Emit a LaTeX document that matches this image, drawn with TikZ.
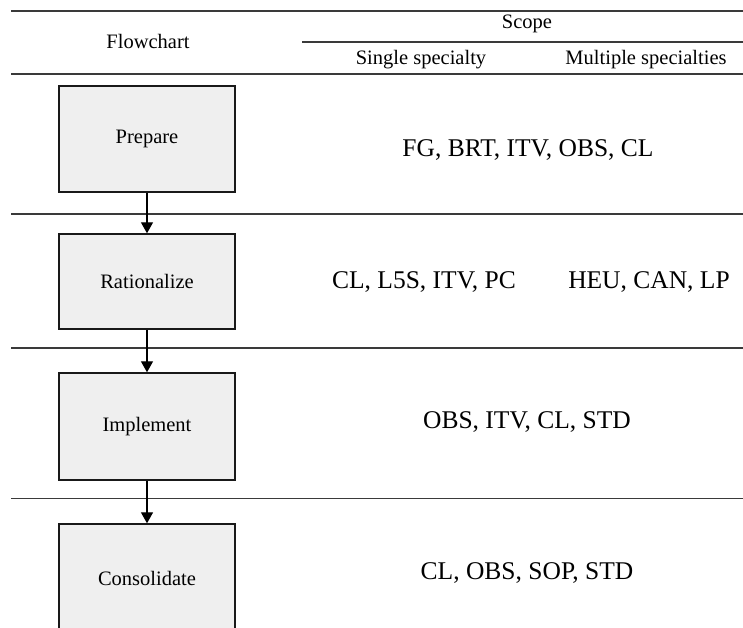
\documentclass[tikz,border=0pt]{standalone}
\usepackage{fontspec}
\setmainfont{Liberation Serif}
\usetikzlibrary{arrows.meta,positioning}
\definecolor{boxgray}{HTML}{EFEFEF}
\definecolor{rulegray}{HTML}{3A3A3A}

\begin{document}
\begin{tikzpicture}[x=1pt,y=-1pt,
    stagebox/.style={draw=black!90,fill=boxgray,line width=1.4pt,minimum width=176pt,inner sep=0pt,
      font=\fontsize{20.5}{24}\selectfont},
    rowtext/.style={inner sep=0pt,font=\fontsize{25.5}{30}\selectfont},
    headtext/.style={inner sep=0pt,font=\fontsize{20.5}{24}\selectfont},
    rule/.style={draw=rulegray,line width=1.7pt},
    flow/.style={draw=black,line width=1.3pt,-{Triangle[width=12pt,length=11pt]}}]
  \useasboundingbox (0,0) rectangle (743,628);
  \clip (0,0) rectangle (743,628);

  % header
  \draw[rule] (11,10.7) -- (743,10.7);
  \draw[rule] (302,41.7) -- (743,41.7);
  \draw[rule] (11,73.7) -- (743,73.7);
  \node[headtext] (flowhead) at (148,41) {Flowchart};
  \node[headtext] (scopehead) at (527,24) {Scope};
  \node[headtext] (singlehead) at (421,60) {Single specialty};
  \node[headtext] (multihead) at (646,60) {Multiple specialties};

  % row dividers
  \draw[rule] (11,214.3) -- (743,214.3);
  \draw[rule] (11,348.3) -- (743,348.3);
  \draw[rule] (11,498.5) -- (743,498.5);

  % flowchart
  \node[stagebox,minimum height=106pt] (prepare) at (147,139) {Prepare};
  \node[stagebox,minimum height=95pt] (rationalize) at (147,281.5) {Rationalize};
  \node[stagebox,minimum height=107pt] (implement) at (147,426.5) {Implement};
  \node[stagebox,minimum height=108pt] (consolidate) at (147,578) {Consolidate};
  \draw[flow] (prepare) -- (rationalize);
  \draw[flow] (rationalize) -- (implement);
  \draw[flow] (implement) -- (consolidate);

  % scope
  \node[rowtext] (prepscope) at (528,150) {FG, BRT, ITV, OBS, CL};
  \node[rowtext] (ratsingle) at (424,282) {CL, L5S, ITV, PC};
  \node[rowtext] (ratmulti) at (649,282) {HEU, CAN, LP};
  \node[rowtext] (implscope) at (527,422) {OBS, ITV, CL, STD};
  \node[rowtext] (consscope) at (527,573) {CL, OBS, SOP, STD};
\end{tikzpicture}
\end{document}
